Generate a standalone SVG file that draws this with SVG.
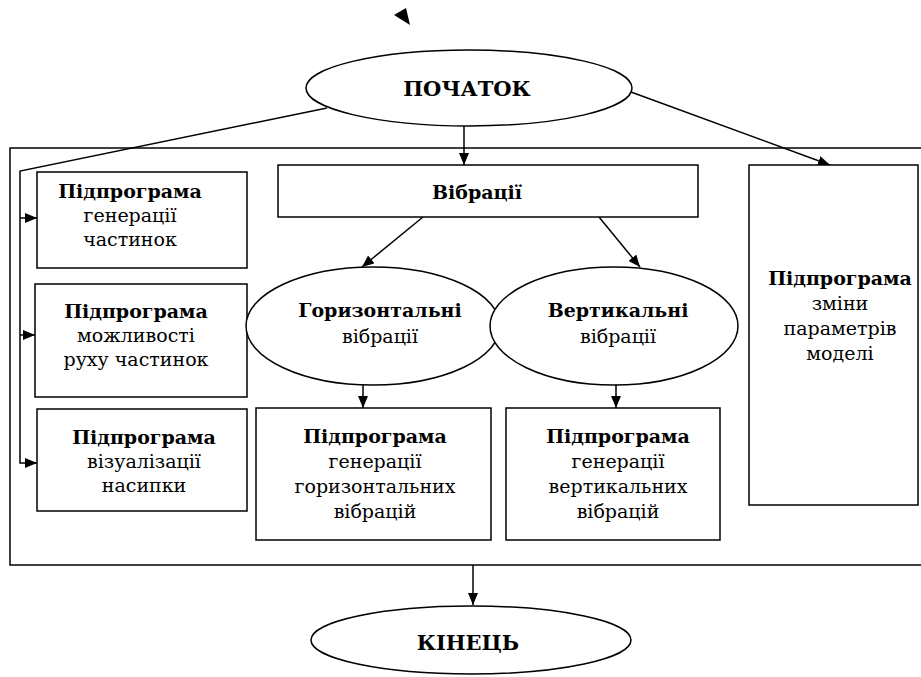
<svg xmlns="http://www.w3.org/2000/svg" width="921" height="677" viewBox="0 0 921 677" font-family="'DejaVu Serif', serif">
<defs>
<marker id="ah" viewBox="0 0 12 10" refX="12" refY="5" markerWidth="12" markerHeight="10" markerUnits="userSpaceOnUse" orient="auto">
<path d="M0,0 L12,5 L0,10 Z" fill="#000"/>
</marker>
<style>
.s{fill:#fff;stroke:#000;stroke-width:1.5}
.c{fill:none;stroke:#000;stroke-width:1.5}
text{font-size:19px;fill:#000;text-anchor:middle}
.b{font-weight:bold}
.t{font-size:21px}
</style>
</defs>
<rect width="921" height="677" fill="#fff"/>
<path d="M394,15 L406,8 L410,25 Z" fill="#000"/>
<path class="c" d="M921,148 H10 V565 H921"/>
<g id="connectors">
<path class="c" d="M327,108 L20,171 V463 H37" marker-end="url(#ah)"/>
<path class="c" d="M20,218 H37" marker-end="url(#ah)"/>
<path class="c" d="M20,335 H35" marker-end="url(#ah)"/>
<path class="c" d="M464,126 V165" marker-end="url(#ah)"/>
<path class="c" d="M631,92 L830,165" marker-end="url(#ah)"/>
<path class="c" d="M423,217 L362,267" marker-end="url(#ah)"/>
<path class="c" d="M599,217 L640,267" marker-end="url(#ah)"/>
<path class="c" d="M363,385 V408" marker-end="url(#ah)"/>
<path class="c" d="M616,385 V408" marker-end="url(#ah)"/>
<path class="c" d="M473,565 V605" marker-end="url(#ah)"/>
</g>
<g id="start">
<ellipse class="s" cx="469" cy="88" rx="163" ry="38"/>
<text class="b t" x="467" y="96">ПОЧАТОК</text>
</g>
<g id="vibr">
<rect class="s" x="278" y="165" width="420" height="52"/>
<text class="b" x="477" y="199">Вібрації</text>
</g>
<g id="sub1">
<rect class="s" x="37" y="172" width="210" height="96"/>
<text x="130" y="198"><tspan class="b">Підпрограма</tspan><tspan x="130" dy="24">генерації</tspan><tspan x="130" dy="24">частинок</tspan></text>
</g>
<g id="sub2">
<rect class="s" x="35" y="284" width="212" height="113"/>
<text x="136" y="318"><tspan class="b">Підпрограма</tspan><tspan x="136" dy="24">можливості</tspan><tspan x="136" dy="24">руху частинок</tspan></text>
</g>
<g id="sub3">
<rect class="s" x="37" y="409" width="210" height="102"/>
<text x="144" y="444"><tspan class="b">Підпрограма</tspan><tspan x="144" dy="24">візуалізації</tspan><tspan x="144" dy="24">насипки</tspan></text>
</g>
<g id="horiz">
<ellipse class="s" cx="373" cy="326" rx="127" ry="59"/>
<text x="380" y="317"><tspan class="b">Горизонтальні</tspan><tspan x="380" dy="26">вібрації</tspan></text>
</g>
<g id="vert">
<ellipse class="s" cx="614" cy="326" rx="124" ry="59"/>
<text x="618" y="317"><tspan class="b">Вертикальні</tspan><tspan x="618" dy="26">вібрації</tspan></text>
</g>
<g id="subH">
<rect class="s" x="256" y="408" width="235" height="132"/>
<text x="375" y="443"><tspan class="b">Підпрограма</tspan><tspan x="375" dy="25">генерації</tspan><tspan x="375" dy="25">горизонтальних</tspan><tspan x="375" dy="25">вібрацій</tspan></text>
</g>
<g id="subV">
<rect class="s" x="506" y="408" width="214" height="132"/>
<text x="618" y="443"><tspan class="b">Підпрограма</tspan><tspan x="618" dy="25">генерації</tspan><tspan x="618" dy="25">вертикальних</tspan><tspan x="618" dy="25">вібрацій</tspan></text>
</g>
<g id="params">
<rect class="s" x="749" y="165" width="169" height="340"/>
<text x="840" y="285"><tspan class="b">Підпрограма</tspan><tspan x="840" dy="25">зміни</tspan><tspan x="840" dy="25">параметрів</tspan><tspan x="840" dy="25">моделі</tspan></text>
</g>
<g id="end">
<ellipse class="s" cx="471" cy="640" rx="160" ry="34"/>
<text class="b t" x="468" y="650">КІНЕЦЬ</text>
</g>
</svg>
